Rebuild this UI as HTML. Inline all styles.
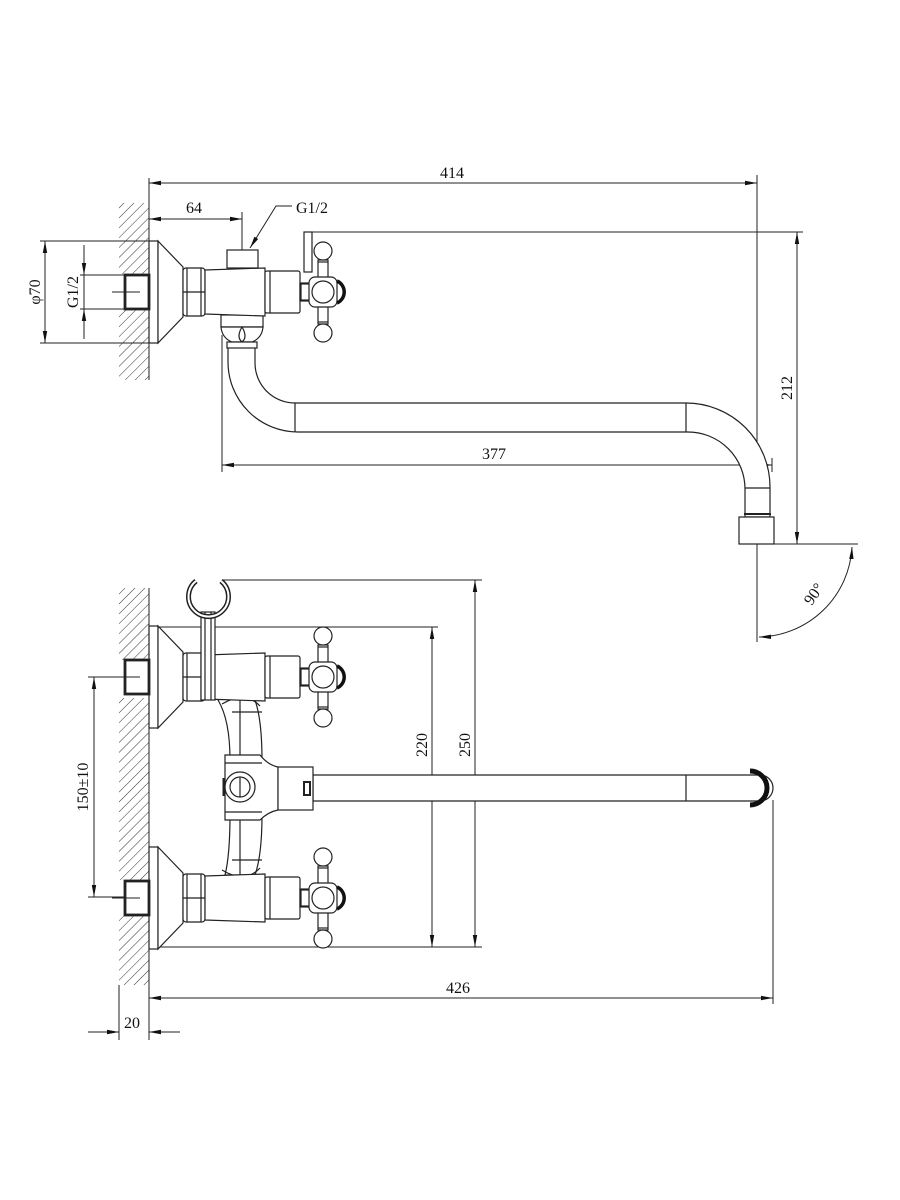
<!DOCTYPE html>
<html><head><meta charset="utf-8"><style>
html,body{margin:0;padding:0;background:#fff}
svg{display:block}
text{font-family:"Liberation Serif",serif;font-size:16px;fill:#111}
</style></head><body>
<svg width="900" height="1200" viewBox="0 0 900 1200" xmlns="http://www.w3.org/2000/svg">
<defs>
<pattern id="h" patternUnits="userSpaceOnUse" width="7" height="7" patternTransform="rotate(45)">
<line x1="0" y1="0" x2="0" y2="7" stroke="#333" stroke-width="1"/>
</pattern>
<marker id="a" viewBox="0 0 12 6" refX="12" refY="3" markerWidth="12" markerHeight="6" markerUnits="userSpaceOnUse" orient="auto-start-reverse">
<path d="M0,0.8 L12,3 L0,5.2 z" fill="#111"/>
</marker>
<g id="handle" fill="#fff" stroke="#222" stroke-width="1.2">
<rect x="-22" y="-8" width="9" height="16"/>
<rect x="-5" y="-32" width="10" height="20"/>
<rect x="-5" y="12" width="10" height="20"/>
<circle cx="0" cy="-41" r="9"/>
<circle cx="0" cy="41" r="9"/>
<line x1="-5" y1="-30" x2="5" y2="-30"/>
<line x1="-5" y1="30" x2="5" y2="30"/>
<rect x="-14" y="-15" width="28" height="30" rx="6"/>
<circle cx="0" cy="0" r="11"/>
<path d="M14,-11 A12,12 0 0 1 14,11" fill="none" stroke="#111" stroke-width="3.5"/>
</g>
<g id="valve" fill="#fff" stroke="#222" stroke-width="1.2">
<rect x="149" y="-51" width="9" height="102"/>
<polygon points="158,-51 183,-25 183,25 158,51"/>
<rect x="183" y="-24" width="22" height="48" rx="3"/>
<line x1="183" y1="0" x2="205" y2="0"/>
<line x1="187" y1="-24" x2="187" y2="24"/>
<line x1="201" y1="-24" x2="201" y2="24"/>
<path d="M205,-22 L265,-24 L265,24 L205,22 z"/>
<rect x="265" y="-21" width="35" height="42" rx="2"/>
<line x1="270" y1="-21" x2="270" y2="21"/>
<rect x="300" y="-9" width="9" height="18"/>
<use href="#handle" x="323" y="0"/>
<rect x="125" y="-17" width="24" height="34" stroke-width="2.8"/>
<line x1="112" y1="0" x2="140" y2="0" stroke-width="1"/>
</g>
</defs>

<g stroke="#222" stroke-width="1" fill="none">
<rect x="119" y="203" width="30" height="177" fill="url(#h)" stroke="none"/>
<rect x="119" y="274" width="30" height="36" fill="#fff" stroke="none"/>
<line x1="149" y1="178" x2="149" y2="380"/>
<line x1="149" y1="183" x2="757" y2="183" marker-start="url(#a)" marker-end="url(#a)"/>
<line x1="757" y1="175" x2="757" y2="642"/>
<line x1="149" y1="219" x2="242" y2="219" marker-start="url(#a)" marker-end="url(#a)"/>
<line x1="242" y1="212" x2="242" y2="250"/>
<polyline points="292,206 276,206 250,248" marker-end="url(#a)"/>
<line x1="40" y1="241" x2="149" y2="241"/>
<line x1="40" y1="343" x2="149" y2="343"/>
<line x1="45" y1="241" x2="45" y2="343" marker-start="url(#a)" marker-end="url(#a)"/>
<line x1="80" y1="275" x2="130" y2="275"/>
<line x1="80" y1="309" x2="130" y2="309"/>
<line x1="84" y1="245" x2="84" y2="275" marker-end="url(#a)"/>
<line x1="84" y1="339" x2="84" y2="309" marker-end="url(#a)"/>
<line x1="84" y1="275" x2="84" y2="309"/>
<line x1="310" y1="232" x2="803" y2="232"/>
<line x1="774" y1="544" x2="858" y2="544"/>
<line x1="797" y1="232" x2="797" y2="544" marker-start="url(#a)" marker-end="url(#a)"/>
<path d="M852,547 A95,95 0 0 1 759,637" marker-start="url(#a)" marker-end="url(#a)"/>
<line x1="222" y1="335" x2="222" y2="472"/>
<line x1="772" y1="458" x2="772" y2="472"/>
<line x1="222" y1="465" x2="772" y2="465" marker-start="url(#a)" marker-end="url(#a)"/>
</g>

<g fill="#fff" stroke="#222" stroke-width="1.2">
<path d="M228,345 L228,362 A70,70 0 0 0 298,432 L688,432 A57,57 0 0 1 745,489 L745,517 L770,517 L770,487 A84,84 0 0 0 686,403 L295,403 A40,40 0 0 1 255,363 L255,345 z"/>
<line x1="295" y1="403" x2="295" y2="432"/>
<line x1="686" y1="403" x2="686" y2="432"/>
<line x1="745" y1="488" x2="770" y2="488"/>
<line x1="744" y1="514" x2="771" y2="514" stroke-width="2"/>
<rect x="739" y="517" width="35" height="27"/>
<rect x="221" y="315" width="42" height="12"/>
<path d="M221,327 Q222,338 232,342 L252,342 Q262,338 263,327 z"/>
<path d="M242,327 Q236,337 242,342 Q248,337 242,327"/>
<rect x="227" y="342" width="30" height="6"/>
<rect x="304" y="232" width="8" height="40"/>
<rect x="227" y="250" width="31" height="18"/>
</g>
<use href="#valve" x="0" y="292"/>
<line x1="242" y1="232" x2="242" y2="250" stroke="#222"/>

<g stroke="#222" stroke-width="1" fill="none">
<rect x="119" y="588" width="30" height="397" fill="url(#h)" stroke="none"/>
<rect x="119" y="660" width="30" height="38" fill="#fff" stroke="none"/>
<rect x="119" y="880" width="30" height="36" fill="#fff" stroke="none"/>
<line x1="149" y1="588" x2="149" y2="1040"/>
<line x1="119" y1="985" x2="119" y2="1040"/>
<line x1="222" y1="580" x2="482" y2="580"/>
<line x1="155" y1="627" x2="438" y2="627"/>
<line x1="155" y1="947" x2="482" y2="947"/>
<line x1="432" y1="627" x2="432" y2="947" marker-start="url(#a)" marker-end="url(#a)"/>
<line x1="475" y1="580" x2="475" y2="947" marker-start="url(#a)" marker-end="url(#a)"/>
<line x1="88" y1="677" x2="130" y2="677"/>
<line x1="88" y1="897" x2="130" y2="897"/>
<line x1="94" y1="677" x2="94" y2="897" marker-start="url(#a)" marker-end="url(#a)"/>
<line x1="773" y1="800" x2="773" y2="1004"/>
<line x1="149" y1="998" x2="773" y2="998" marker-start="url(#a)" marker-end="url(#a)"/>
<line x1="88" y1="1032" x2="119" y2="1032" marker-end="url(#a)"/>
<line x1="180" y1="1032" x2="149" y2="1032" marker-end="url(#a)"/>
</g>

<g fill="#fff" stroke="#222" stroke-width="1.2">
<path d="M218,700 Q240,690 255,700 Q262,720 262,760 L262,815 Q262,855 255,875 L225,875 Q230,855 230,815 L230,760 Q230,720 218,700 z"/>
<path d="M222,704 Q245,690 260,706" fill="none"/>
<path d="M222,870 Q245,884 260,868" fill="none"/>
<line x1="240" y1="700" x2="240" y2="875"/>
<line x1="232" y1="712" x2="262" y2="712"/>
<line x1="232" y1="860" x2="262" y2="860"/>
<path d="M225,755 L260,755 Q268,765 278,767 L278,810 Q268,812 260,820 L225,820 z"/>
<line x1="225" y1="763" x2="262" y2="763"/>
<line x1="225" y1="812" x2="262" y2="812"/>
<path d="M313,775 L760,775 A13,13 0 0 1 760,801 L313,801 z"/>
<line x1="686" y1="775" x2="686" y2="801"/>
<path d="M750,771 A17,17 0 0 1 750,805" fill="none" stroke="#111" stroke-width="5"/>
<rect x="278" y="767" width="35" height="43"/>
<rect x="304" y="782" width="6" height="13" stroke-width="2"/>
<circle cx="240" cy="787" r="15"/>
<circle cx="240" cy="787" r="10"/>
<line x1="240" y1="777" x2="240" y2="797"/>
<line x1="224" y1="778" x2="224" y2="796" stroke-width="3"/>
</g>
<use href="#valve" x="0" y="677"/>
<use href="#valve" x="0" y="898"/>
<g fill="#fff" stroke="#222" stroke-width="1.2">
<rect x="201" y="612" width="14" height="88"/>
<line x1="205" y1="612" x2="205" y2="700"/>
<line x1="211" y1="612" x2="211" y2="700"/>
<path d="M196,581 A20,20 0 1 0 221,581" fill="none" stroke="#222" stroke-width="5"/>
<path d="M196,581 A20,20 0 1 0 221,581" fill="none" stroke="#fff" stroke-width="2"/>
</g>

<text x="440" y="178">414</text>
<text x="186" y="213">64</text>
<text x="296" y="213">G1/2</text>
<text x="482" y="459">377</text>
<text x="446" y="993">426</text>
<text x="124" y="1028">20</text>
<text transform="translate(40,292) rotate(-90)" text-anchor="middle">φ70</text>
<text transform="translate(78,292) rotate(-90)" text-anchor="middle">G1/2</text>
<text transform="translate(792,388) rotate(-90)" text-anchor="middle">212</text>
<text transform="translate(818,597) rotate(-55)" text-anchor="middle">90°</text>
<text transform="translate(427,745) rotate(-90)" text-anchor="middle">220</text>
<text transform="translate(470,745) rotate(-90)" text-anchor="middle">250</text>
<text transform="translate(88,787) rotate(-90)" text-anchor="middle">150±10</text>
</svg>
</body></html>
